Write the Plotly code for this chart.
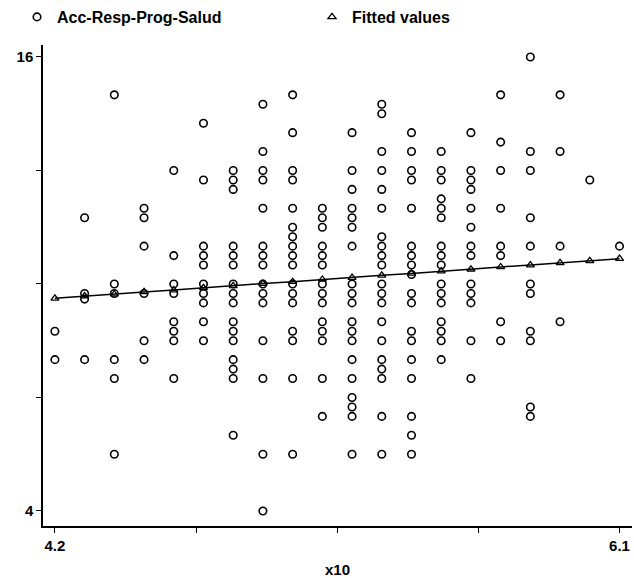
import plotly.graph_objects as go

# ---- data ----
x_cols = [4.2, 4.3, 4.4, 4.5, 4.6, 4.7, 4.8, 4.9, 5.0, 5.1,
          5.2, 5.3, 5.4, 5.5, 5.6, 5.7, 5.8, 5.9, 6.0, 6.1]

y_42 = [8.75, 8.0]
y_43 = [11.75, 9.75, 9.6, 8.0]
y_44 = [15, 10, 9.75, 8, 7.5, 5.5]
y_45 = [12, 11.75, 11, 9.75, 8.5, 8]
y_46 = [13, 10.75, 10, 9.75, 9, 8.75, 8.5, 7.5]
y_47 = [14.25, 12.75, 11, 10.75, 10.5, 10, 9.75, 9.5, 9, 8.5]
y_48 = [13, 12.75, 12.5, 11, 10.75, 10.5, 10, 9.75, 9.5, 9, 8.75, 8.5, 8, 7.75, 7.5, 6]
y_49 = [14.75, 13.5, 13, 12.75, 12, 11, 10.75, 10.5, 10, 9.75, 9.5, 8.5, 7.5, 5.5, 4]
y_50 = [15, 14, 13, 12.75, 12, 11.5, 11.25, 11, 10.75, 10.5, 10, 9.75, 9.5, 8.75, 8.5, 7.5, 5.5]
y_51 = [12, 11.75, 11.5, 11, 10.75, 10.5, 10, 9.75, 9.5, 9, 8.75, 8.5, 7.5, 6.5]
y_52 = [14, 13, 12.5, 12, 11.75, 11.5, 11, 10, 9.75, 9.5, 9, 8.75, 8.5, 8, 7.5, 7, 6.75, 6.5, 5.5]
y_53 = [14.75, 14.5, 13.5, 13, 12.5, 12, 11.25, 11, 10.75, 10.5, 10, 9.75, 9.5, 9, 8.5, 8, 7.75, 7.5, 6.5, 5.5]
y_54 = [14, 13.5, 13, 12.75, 12, 11, 10.75, 10.5, 10.25, 9.75, 9.5, 8.75, 8.5, 8, 7.5, 6.5, 6, 5.5]
y_55 = [13.5, 13, 12.75, 12.25, 12, 11.75, 11, 10.75, 10.5, 10, 9.75, 9.5, 9, 8.75, 8.5, 8]
y_56 = [14, 13, 12.75, 12.5, 12, 11.5, 11, 10.75, 10, 9.75, 9.5, 8.5, 7.5]
y_57 = [15, 13.75, 13, 12, 11, 10.75, 9, 8.5]
y_58 = [16, 13.5, 13, 11.75, 11, 10, 9.75, 8.75, 8.5, 6.75, 6.5]
y_59 = [15, 13.5, 11, 9]
y_60 = [12.75]
y_61 = [11]

fit_y = [9.62, 9.68, 9.73, 9.79, 9.84, 9.90, 9.95, 10.01, 10.06, 10.12,
         10.17, 10.23, 10.28, 10.34, 10.39, 10.45, 10.50, 10.56, 10.61, 10.67]

x_tickvals = [4.2, 4.675, 5.15, 5.625, 6.1]
x_ticktext = ["4.2", "", "", "", "6.1"]
y_tickvals = [4, 7, 10, 13, 16]
y_ticktext = ["4", "", "", "", "16"]

columns = [y_42, y_43, y_44, y_45, y_46, y_47, y_48, y_49, y_50, y_51,
           y_52, y_53, y_54, y_55, y_56, y_57, y_58, y_59, y_60, y_61]

obs_x, obs_y = [], []
for xv, ys in zip(x_cols, columns):
    obs_x += [xv] * len(ys)
    obs_y += ys

FONT = "Liberation Sans, Arial, sans-serif"
font_b = dict(family=FONT, size=15, color="black", weight="bold")
font_leg = dict(family=FONT, size=16, color="black", weight="bold")

W, H = 634, 578

fig = go.Figure()
fig.add_trace(go.Scatter(
    x=obs_x, y=obs_y, mode="markers", name="Acc-Resp-Prog-Salud",
    legend="legend",
    marker=dict(symbol="circle-open", size=7.5, color="black",
                line=dict(width=1.6, color="black")),
))
fig.add_trace(go.Scatter(
    x=x_cols, y=fit_y, mode="lines", showlegend=False,
    line=dict(color="black", width=1.5),
))
fig.add_trace(go.Scatter(
    x=x_cols, y=fit_y, mode="markers", name="Fitted values",
    legend="legend2",
    marker=dict(symbol="triangle-up-open", size=7, color="black",
                line=dict(width=1.3, color="black")),
))

axis_common = dict(
    showline=True, linecolor="black", linewidth=1.5,
    ticks="outside", ticklen=5, tickwidth=1.3, tickcolor="black",
    showgrid=False, zeroline=False, automargin=False,
    tickfont=font_b,
)

leg_common = dict(orientation="h", xref="container", yref="container",
                  y=1.0, xanchor="left", yanchor="top",
                  font=font_leg, bgcolor="rgba(0,0,0,0)")

fig.update_layout(
    width=W, height=H,
    margin=dict(l=43, r=2, t=45, b=52, autoexpand=False),
    paper_bgcolor="white", plot_bgcolor="white",
    xaxis=dict(range=[4.16, 6.142], tickvals=x_tickvals, ticktext=x_ticktext,
               title=dict(text="x10", standoff=13, font=font_b),
               **axis_common),
    yaxis=dict(range=[3.603, 16.317], tickvals=y_tickvals, ticktext=y_ticktext,
               **axis_common),
    legend=dict(x=17 / W, **leg_common),
    legend2=dict(x=312 / W, **leg_common),
    showlegend=True,
)

fig.write_html("out.html",
               config={"displayModeBar": False},
               post_script="document.body.style.margin='0';document.body.style.overflow='hidden';")
